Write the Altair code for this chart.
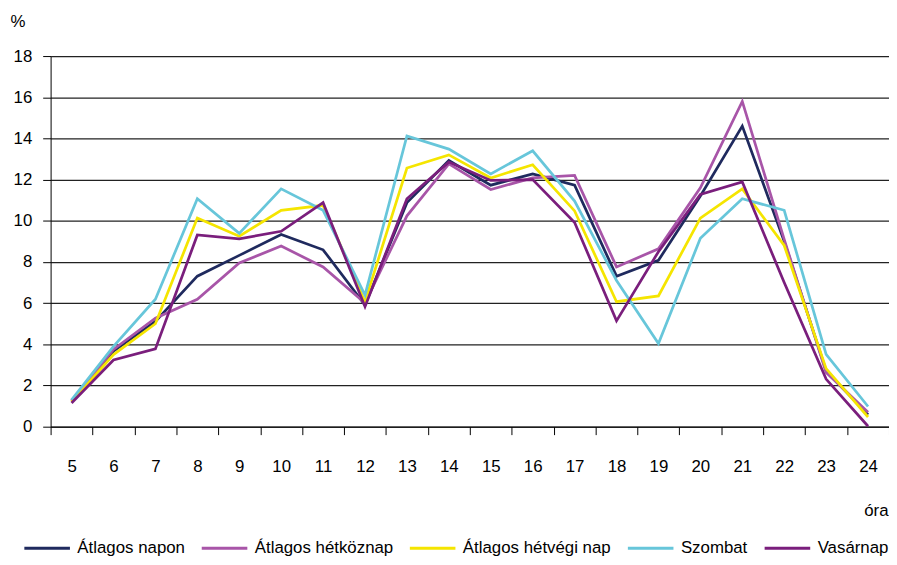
import altair as alt
import pandas as pd

hours = list(range(5, 25))
series_names = ["Átlagos napon", "Átlagos hétköznap", "Átlagos hétvégi nap", "Szombat", "Vasárnap"]
colors = ["#1F2A5E", "#A855A8", "#F5E500", "#67C6DA", "#7A1E7C"]

atlagos_napon = [1.25, 3.67, 5.11, 7.31, 8.32, 9.33, 8.59, 5.91, 10.88, 12.93,
                 11.73, 12.28, 11.73, 7.31, 8.08, 11.20, 14.60, 9.00, 2.71, 0.58]
atlagos_hetkoznap = [1.25, 3.75, 5.27, 6.19, 7.95, 8.77, 7.76, 6.00, 10.24, 12.76,
                     11.52, 12.08, 12.20, 7.76, 8.64, 11.60, 15.80, 9.10, 2.63, 0.70]
atlagos_hetvegi = [1.20, 3.50, 5.00, 10.13, 9.25, 10.51, 10.75, 6.07, 12.56, 13.20,
                   12.08, 12.72, 10.48, 6.07, 6.35, 10.13, 11.55, 8.80, 2.82, 0.47]
szombat = [1.30, 3.90, 6.19, 11.07, 9.39, 11.55, 10.51, 6.39, 14.12, 13.48,
           12.28, 13.40, 10.96, 7.10, 4.04, 9.15, 11.07, 10.51, 3.51, 0.98]
vasarnap = [1.15, 3.24, 3.78, 9.31, 9.12, 9.49, 10.88, 5.83, 11.07, 12.85,
            11.96, 12.00, 9.92, 5.14, 8.50, 11.28, 11.89, 7.00, 2.31, 0.02]

y_ticks = list(range(0, 19, 2))

all_series = [atlagos_napon, atlagos_hetkoznap, atlagos_hetvegi, szombat, vasarnap]
rows = []
for name, vals in zip(series_names, all_series):
    for h, v in zip(hours, vals):
        rows.append({"ora": h, "ertek": v, "sorozat": name})
df = pd.DataFrame(rows)

FONT = "Liberation Sans"

chart = alt.Chart(df).mark_line(strokeWidth=2.75).encode(
    x=alt.X(
        "ora:O",
        bandPosition=0.5,
        scale=alt.Scale(type="band", paddingInner=0, paddingOuter=0),
        axis=alt.Axis(
            title="óra",
            labelAngle=0,
            tickBand="extent",
            tickSize=8,
            tickColor="#000000",
            domainColor="#000000",
            labelPadding=24,
            labelFontSize=17,
            labelColor="#000000",
            grid=False,
            titleFontSize=17,
            titleFontWeight="normal",
            titleColor="#000000",
            titleAlign="right",
            titleBaseline="alphabetic",
            titleX=845,
            titleY=90,
        ),
    ),
    y=alt.Y(
        "ertek:Q",
        scale=alt.Scale(domain=[0, 18], nice=False),
        axis=alt.Axis(
            title="%",
            values=y_ticks,
            tickSize=8,
            tickColor="#000000",
            domainColor="#000000",
            labelPadding=11,
            labelFontSize=17,
            labelColor="#000000",
            grid=True,
            gridColor="#222222",
            gridWidth=1.2,
            titleFontSize=17,
            titleFontWeight="normal",
            titleColor="#000000",
            titleAngle=0,
            titleAlign="left",
            titleBaseline="alphabetic",
            titleX=-41,
            titleY=-30,
        ),
    ),
    color=alt.Color(
        "sorozat:N",
        scale=alt.Scale(domain=series_names, range=colors),
        legend=alt.Legend(
            title=None,
            orient="none",
            direction="horizontal",
            legendX=-28,
            legendY=472,
            symbolType="stroke",
            symbolSize=2116,
            symbolStrokeWidth=3,
            labelFontSize=17,
            labelColor="#000000",
            labelOffset=6,
            labelLimit=300,
            columnPadding=10,
            padding=0,
        ),
    ),
).properties(
    width=846,
    height=374,
    autosize=alt.AutoSizeParams(type="none"),
    padding={"left": 43, "top": 46, "right": 0, "bottom": 129},
).configure(
    font=FONT,
).configure_view(
    stroke=None,
)

chart.save("out.html", embed_options={"renderer": "svg", "actions": False})
